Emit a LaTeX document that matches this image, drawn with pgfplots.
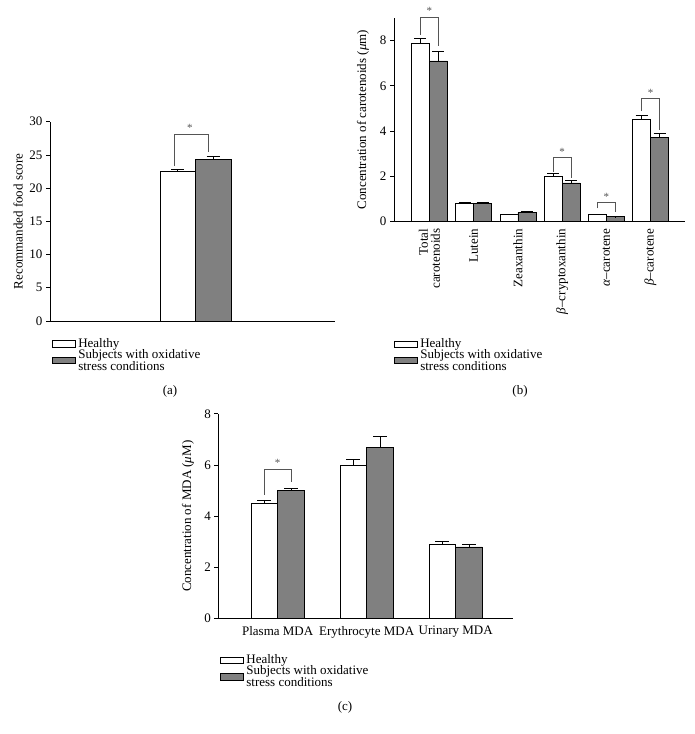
\documentclass[border=0pt]{standalone}
\usepackage{pgfplots}
\pgfplotsset{compat=1.18}
\usepackage{fontspec}
\setmainfont{Liberation Serif}

\definecolor{barGray}{RGB}{128,128,128}
\definecolor{brk}{RGB}{85,85,85}
\newcommand\fs{\fontsize{13}{12}\selectfont}

\tikzset{
  br/.style={brk, line width=0.7pt},
  star/.style={brk, font=\fontsize{11}{11}\selectfont, inner sep=0pt},
}

\pgfplotsset{
  panel/.style={
    scale only axis,
    anchor=south west,
    clip=false,
    axis x line*=bottom,
    axis y line*=left,
    axis line style={black, line width=0.8pt, -},
    ybar=0pt,
    ymin=0,
    tick align=outside,
    major tick length=4pt,
    ytick style={black, line width=0.8pt},
    xtick style={draw=none},
    /pgf/number format/assume math mode=true,
    tick label style={font=\fs},
    label style={font=\fs},
    legend style={draw=none, fill=none, anchor=north west, inner sep=0pt,
      font=\fs, row sep=0pt, nodes={inner ysep=0pt, inner xsep=2.5pt},
      cells={anchor=west, align=left}},
    legend cell align=left,
  },
  errs/.style={
    error bars/y dir=plus, error bars/y explicit,
    error bars/error mark options={rotate=90, black, line width=1pt, mark size=#1},
    error bars/error bar style={black, line width=0.6pt},
  },
  healthy/.style={fill=white, draw=black, line width=0.6pt, errs=#1,
    legend image code/.code={\draw[fill=white, draw=black, line width=0.6pt] (0pt,-3.2pt) rectangle (23pt,3.2pt);}},
  stress/.style={fill=barGray, draw=black, line width=0.6pt, errs=#1,
    legend image code/.code={\draw[fill=barGray, draw=black, line width=0.6pt] (0pt,-3.2pt) rectangle (23pt,3.2pt);}},
}

\begin{document}
\begin{tikzpicture}
\useasboundingbox (0,0) rectangle (694pt,734pt);

% (a) recommended food score
\begin{axis}[panel, at={(50pt,413pt)},
  width=285pt, height=199.3pt,
  xmin=-1.02, xmax=0.98, ymax=30, ytick={0,5,...,30}, xtick=\empty,
  bar width=35.5pt,
  ylabel={Recommanded food score},
  ylabel style={at={(axis description cs:-0.112,0.5)}, anchor=center},
  legend style={at={(0.007,-0.088)}},
]
\addplot[healthy=6.5pt] coordinates {(0,22.5) +- (0,0.3)};
\addplot[stress=6.5pt] coordinates {(0,24.3) +- (0,0.4)};
\legend{Healthy, Subjects with oxidative\\stress conditions}
\draw[br] ([xshift=-21pt]axis cs:0,23.3) -- ([xshift=-21pt]axis cs:0,28.1)
  -- ([xshift=13pt]axis cs:0,28.1) -- ([xshift=13pt]axis cs:0,25.5);
\node[star] at ([xshift=-5.5pt]axis cs:0,29.1) {*};
\end{axis}

% (b) carotenoids
\begin{axis}[panel, at={(394pt,512.7pt)},
  width=291pt, height=203.3pt,
  xmin=-0.803, xmax=5.78, ymax=9, ytick={0,2,...,8},
  xtick={0,...,5},
  xtick style={black, line width=0.6pt},
  xticklabels={{Total\\carotenoids}, Lutein, Zeaxanthin,
    {\textit{β}–cryptoxanthin}, {\textit{α}–carotene}, {\textit{β}–carotene}},
  xticklabel style={rotate=90, anchor=east, align=right},
  bar width=18pt,
  ylabel={Concentration of carotenoids (\textit{μ}m)},
  ylabel style={at={(axis description cs:-0.107,0.5)}, anchor=center},
  legend style={at={(0.0,-0.577)}},
]
\addplot[healthy=6pt] coordinates {
  (0,7.9) +- (0,0.2)
  (1,0.8) +- (0,0.02)
  (2,0.3) +- (0,0.01)
  (3,2.0) +- (0,0.1)
  (4,0.3) +- (0,0.01)
  (5,4.5) +- (0,0.2)
};
\addplot[stress=6pt] coordinates {
  (0,7.1) +- (0,0.4)
  (1,0.8) +- (0,0.02)
  (2,0.4) +- (0,0.02)
  (3,1.7) +- (0,0.1)
  (4,0.2) +- (0,0.01)
  (5,3.7) +- (0,0.2)
};
\legend{Healthy, Subjects with oxidative\\stress conditions}
\draw[br] ([xshift=-9pt]axis cs:0,8.25) -- ([xshift=-9pt]axis cs:0,9.03)
  -- ([xshift=9pt]axis cs:0,9.03) -- ([xshift=9pt]axis cs:0,7.76);
\node[star] at (axis cs:0,9.3) {*};
\draw[br] ([xshift=-9pt]axis cs:3,2.2) -- ([xshift=-9pt]axis cs:3,2.83)
  -- ([xshift=9pt]axis cs:3,2.83) -- ([xshift=9pt]axis cs:3,1.9);
\node[star] at (axis cs:3,3.08) {*};
\draw[br] ([xshift=-9pt]axis cs:4,0.57) -- ([xshift=-9pt]axis cs:4,0.82)
  -- ([xshift=9pt]axis cs:4,0.82) -- ([xshift=9pt]axis cs:4,0.4);
\node[star] at (axis cs:4,1.09) {*};
\draw[br] ([xshift=-9pt]axis cs:5,4.88) -- ([xshift=-9pt]axis cs:5,5.45)
  -- ([xshift=9pt]axis cs:5,5.45) -- ([xshift=9pt]axis cs:5,4.04);
\node[star] at (axis cs:5,5.7) {*};
\end{axis}

% (c) MDA
\begin{axis}[panel, at={(218.3pt,115.3pt)},
  width=294.7pt, height=204.9pt,
  xmin=-0.667, xmax=2.644, ymax=8, ytick={0,2,...,8},
  xtick={0,1,2},
  xticklabels={Plasma MDA, Erythrocyte MDA, Urinary MDA},
  bar width=26.7pt,
  ylabel={Concentration of MDA (\textit{μ}M)},
  ylabel style={at={(axis description cs:-0.103,0.5)}, anchor=center},
  legend style={at={(0.006,-0.176)}},
]
\addplot[healthy=7pt] coordinates {
  (0,4.5) +- (0,0.1)
  (1,6.0) +- (0,0.2)
  (2,2.9) +- (0,0.1)
};
\addplot[stress=7pt] coordinates {
  (0,5.0) +- (0,0.1)
  (1,6.7) +- (0,0.4)
  (2,2.8) +- (0,0.1)
};
\legend{Healthy, Subjects with oxidative\\stress conditions}
\draw[br] ([xshift=-13.35pt]axis cs:0,4.83) -- ([xshift=-13.35pt]axis cs:0,5.84)
  -- ([xshift=13.35pt]axis cs:0,5.84) -- ([xshift=13.35pt]axis cs:0,5.35);
\node[star] at (axis cs:0,6.07) {*};
\end{axis}

\node[font=\fs] at (170pt,343pt) {(a)};
\node[font=\fs] at (520pt,343pt) {(b)};
\node[font=\fs] at (345pt,27pt) {(c)};
\end{tikzpicture}
\end{document}
